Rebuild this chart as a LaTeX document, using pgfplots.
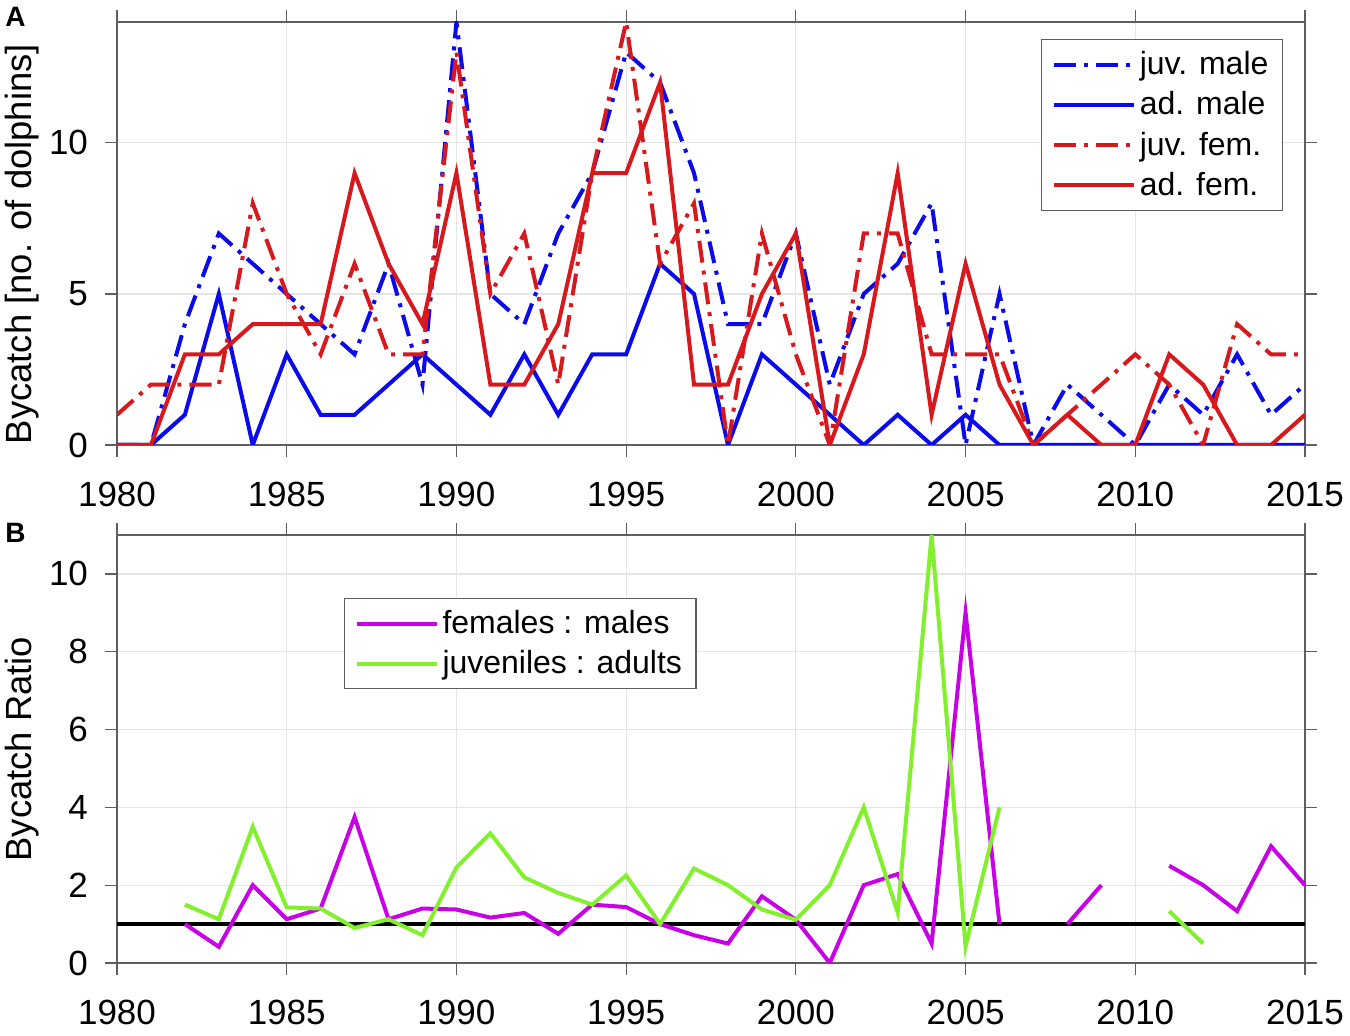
\documentclass[border=0pt]{standalone}
\usepackage{fontspec}
\setmainfont{Liberation Sans}
\usepackage{pgfplots}
\pgfplotsset{compat=1.18}
\usepackage{pgfplotstable}

\definecolor{mblue}{RGB}{10,10,235}
\definecolor{mred}{RGB}{215,25,30}
\definecolor{mmag}{RGB}{200,0,230}
\definecolor{mgreen}{RGB}{130,240,45}
\definecolor{axgray}{RGB}{95,95,95}

\pgfplotstableread{
year jm am jf af
1980 0 0 1 0
1981 0 0 2 0
1982 4 1 2 3
1983 7 5 2 3
1984 6 0 8 4
1985 5 3 5 4
1986 4 1 3 4
1987 3 1 6 9
1988 6 2 3 6
1989 2 3 3 4
1990 14 2 13 9
1991 5 1 5 2
1992 4 3 7 2
1993 7 1 2 4
1994 9 3 9 9
1995 13 3 14 9
1996 12 6 6 12
1997 9 5 8 2
1998 4 0 0 2
1999 4 3 7 5
2000 7 2 3 7
2001 2 1 0 0
2002 5 0 7 3
2003 6 1 7 9
2004 8 0 3 1
2005 0 1 3 6
2006 5 0 3 2
2007 0 0 0 0
2008 2 0 1 1
2009 1 0 2 0
2010 0 0 3 0
2011 2 0 2 3
2012 1 0 0 2
2013 3 0 4 0
2014 1 0 3 0
2015 2 0 3 1
}\tA

\pgfplotstableread{
year fm ja
1980 nan nan
1981 nan nan
1982 1.0 1.5
1983 0.4167 1.125
1984 2.0 3.5
1985 1.125 1.4286
1986 1.4 1.4
1987 3.75 0.9
1988 1.125 1.125
1989 1.4 0.7143
1990 1.375 2.4545
1991 1.1667 3.3333
1992 1.2857 2.2
1993 0.75 1.8
1994 1.5 1.5
1995 1.4375 2.25
1996 1.0 1.0
1997 0.7143 2.4286
1998 0.5 2.0
1999 1.7143 1.375
2000 1.1111 1.1111
2001 0.0 2.0
2002 2.0 4.0
2003 2.2857 1.3
2004 0.5 11.0
2005 9.0 0.4286
2006 1.0 4.0
2007 nan nan
2008 1.0 nan
2009 2.0 nan
2010 nan nan
2011 2.5 1.3333
2012 2.0 0.5
2013 1.3333 nan
2014 3.0 nan
2015 2.0 nan
}\tB

\pgfplotsset{
 mystyle/.style={
  scale only axis, width=594pt,
  xmin=1980, xmax=2015, xtick={1980,1985,...,2015},
  tick align=outside, major tick length=6pt,
  axis line style={axgray, line width=0.6pt},
  tick style={axgray, line width=0.6pt},
  grid=major, major grid style={gray!20, line width=0.6pt},
  ticklabel style={font=\fontsize{17.5}{20}\selectfont},
  xticklabel style={yshift=-9pt},
  yticklabel style={xshift=-5pt},
  /pgf/number format/assume math mode=true,
  /pgf/number format/1000 sep={},
  label style={font=\fontsize{18.2}{22}\selectfont},
  legend style={draw=axgray, line width=0.6pt, font=\fontsize{16}{20}\selectfont,
    row sep=3pt, inner xsep=5pt, inner ysep=4pt},
  legend cell align=left,
  legend image code/.code={\draw[##1] (0pt,0pt) -- (40pt,0pt);},
  unbounded coords=jump,
 },
 dd/.style={dash pattern=on 11pt off 4pt on 2pt off 4pt},
}

\begin{document}
\begin{tikzpicture}
\useasboundingbox (0,0) rectangle (675pt,517.5pt);

\begin{axis}[mystyle,
  at={(58.5pt,295pt)}, anchor=south west,
  height=211.5pt,
  ymin=0, ymax=14, ytick={0,5,10},
  ylabel={Bycatch [no. of dolphins]},
  ylabel style={at={(axis description cs:-0.08,0.475)}, anchor=center},
  legend style={at={(0.9815,0.96)}, anchor=north east},
]
\addplot[mblue, line width=2pt, dd] table[x=year, y=jm] {\tA};
\addlegendentry{juv. male}
\addplot[mblue, line width=2pt] table[x=year, y=am] {\tA};
\addlegendentry{ad. male}
\addplot[mred, line width=2pt, dd] table[x=year, y=jf] {\tA};
\addlegendentry{juv. fem.}
\addplot[mred, line width=2pt] table[x=year, y=af] {\tA};
\addlegendentry{ad. fem.}
\end{axis}

\begin{axis}[mystyle,
  at={(58.5pt,36pt)}, anchor=south west,
  height=214pt,
  ymin=0, ymax=11, ytick={0,2,...,10},
  ylabel={Bycatch Ratio},
  ylabel style={at={(axis description cs:-0.08,0.5)}, anchor=center},
  legend style={at={(0.191,0.853)}, anchor=north west},
]
\addplot[black, line width=2pt, forget plot] coordinates {(1980,1) (2015,1)};
\addplot[mmag, line width=2pt] table[x=year, y=fm] {\tB};
\addlegendentry{females : males}
\addplot[mgreen, line width=2pt] table[x=year, y=ja] {\tB};
\addlegendentry{juveniles : adults}
\end{axis}

\node[anchor=north west, inner sep=0pt, font=\bfseries\fontsize{14}{14}\selectfont] at (2.5pt,514pt) {A};
\node[anchor=north west, inner sep=0pt, font=\bfseries\fontsize{14}{14}\selectfont] at (2.5pt,256pt) {B};
\end{tikzpicture}
\end{document}
